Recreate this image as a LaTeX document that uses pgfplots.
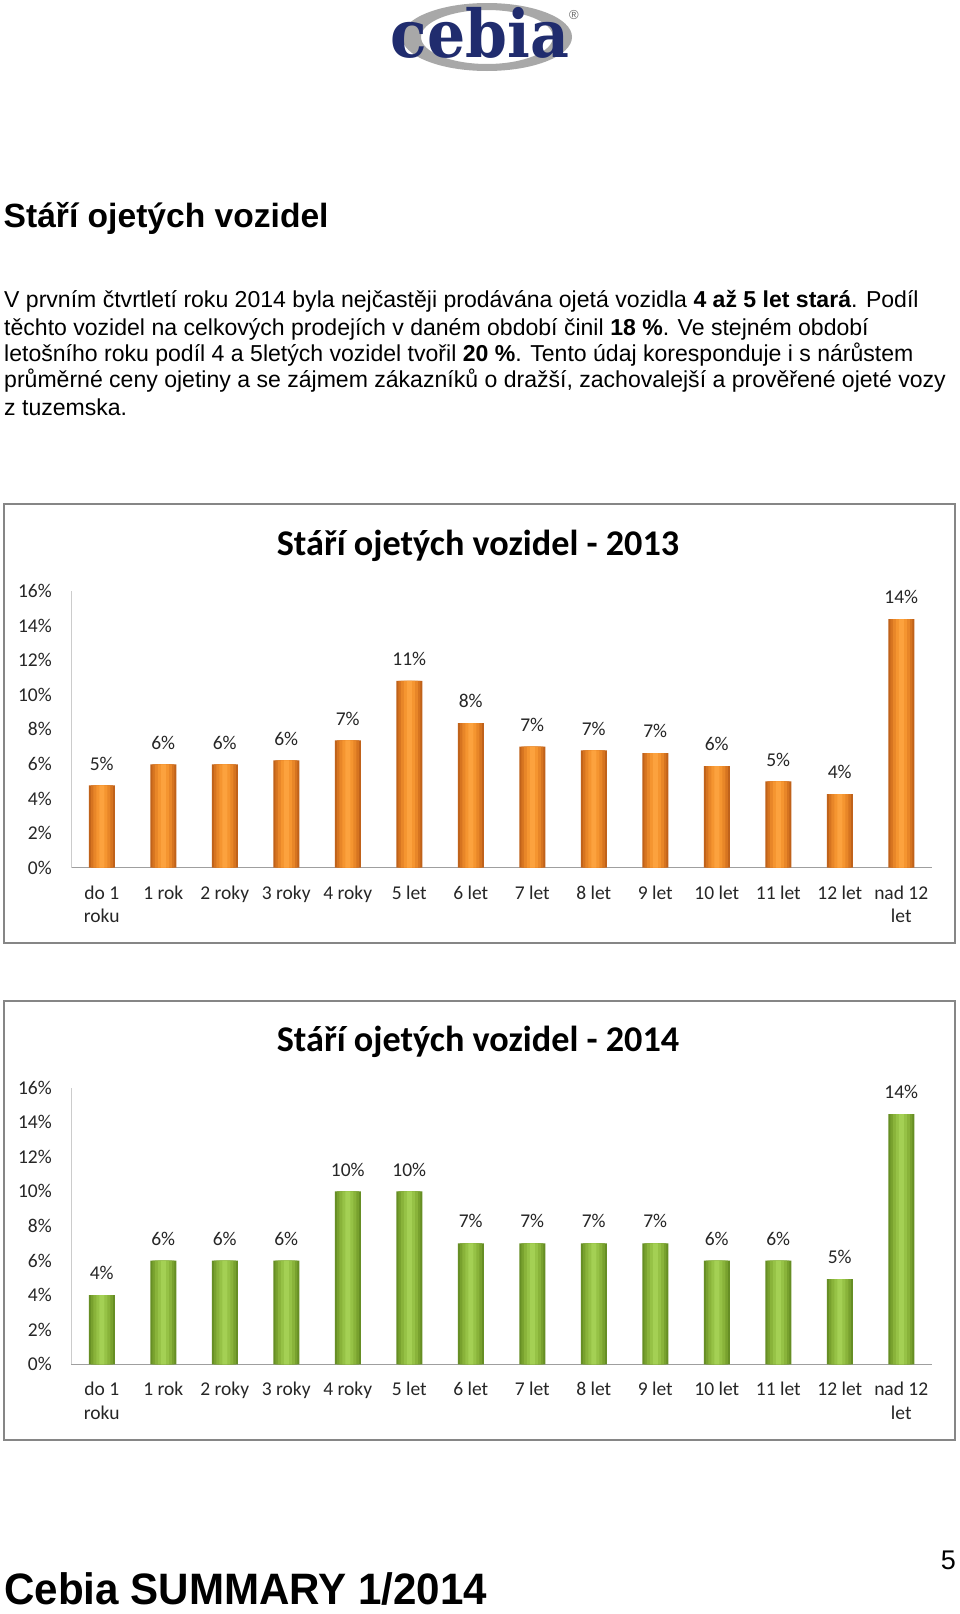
\documentclass[border=0pt]{standalone}
\usepackage{fontspec}
\usepackage{graphicx}
\usepackage{pgfplots}
\usepackage{pgfplotstable}
\pgfplotsset{compat=1.18}
\setmainfont{Liberation Sans}
\newfontfamily\carlito{Carlito}
\newfontfamily\djserif{DejaVu Serif}

\definecolor{or1}{RGB}{192,98,26}
\definecolor{or2}{RGB}{214,116,32}
\definecolor{or3}{RGB}{232,134,40}
\definecolor{or4}{RGB}{245,149,48}
\definecolor{or5}{RGB}{252,162,62}
\definecolor{gr1}{RGB}{102,142,36}
\definecolor{gr2}{RGB}{120,161,46}
\definecolor{gr3}{RGB}{137,179,58}
\definecolor{gr4}{RGB}{150,194,70}
\definecolor{gr5}{RGB}{164,208,84}
\definecolor{navy}{RGB}{32,44,110}
\definecolor{logogray}{RGB}{168,168,168}
\definecolor{framec}{RGB}{134,134,134}

\pgfplotstableread{
x y
0 4.76
1 5.97
2 5.97
3 6.2
4 7.36
5 10.8
6 8.36
7 7.0
8 6.78
9 6.63
10 5.88
11 4.99
12 4.26
13 14.37
}\dataA

\pgfplotstableread{
x y
0 4.0
1 6.0
2 6.0
3 6.0
4 10.0
5 10.0
6 7.0
7 7.0
8 7.0
9 7.0
10 6.0
11 6.0
12 4.93
13 14.47
}\dataB

\pgfplotsset{cebia/.style={
  scale only axis, width=861pt, height=276.7pt,
  xmin=-0.5, xmax=13.5, ymin=0, ymax=16,
  axis x line*=bottom, axis y line*=left,
  x axis line style={-, draw=gray!75, line width=1pt},
  y axis line style={-, draw=gray!40, line width=1pt},
  xtick={0,...,13}, ytick={0,2,...,16},
  major tick length=0pt,
  xticklabels={{do 1\\roku},{1 rok},{2 roky},{3 roky},{4 roky},{5 let},{6 let},{7 let},{8 let},{9 let},{10 let},{11 let},{12 let},{nad 12\\let}},
  yticklabel={\pgfmathprintnumber{\tick}\%},
  /pgf/number format/assume math mode=true,
  tick label style={font=\carlito\fontsize{19.5}{23.3}\selectfont, inner sep=0pt, text=black!85},
  xticklabel style={align=center, anchor=north, yshift=-17.8pt},
  yticklabel style={anchor=east, xshift=-19pt},
  clip=false,
  lay/.style={ybar, bar shift=0pt, draw=none, fill=##1},
  labs/.style={nodes near coords={\pgfmathprintnumber[fixed,precision=0]{\pgfplotspointmeta}\%},
    every node near coord/.append style={font=\carlito\fontsize{19.5}{22}\selectfont, inner sep=0pt, yshift=15pt, text=black!85}},
}}

\begin{document}
\begin{tikzpicture}
\path[use as bounding box, fill=white] (0pt,0pt) rectangle (960pt,-1614pt);

% logo
\fill[logogray, even odd rule] (487pt,-37pt) ellipse [x radius=85pt, y radius=34pt]
  (487pt,-37pt) ellipse [x radius=66pt, y radius=27pt];
\node[anchor=base, inner sep=0pt, text=navy] at (480pt,-57pt)
  {\scalebox{0.91}[1]{\djserif\bfseries\fontsize{66}{66}\selectfont cebia}};
\node[inner sep=0pt, text=black!60] at (574pt,-15pt) {\fontsize{13}{13}\selectfont ®};

% heading and text
\node[anchor=base west, inner sep=0pt] at (3.5pt,-227.7pt)
  {\bfseries\fontsize{33.6}{40}\selectfont Stáří ojetých vozidel};
\begin{scope}[every node/.style={anchor=base west, inner sep=0pt, font=\fontsize{23.05}{26.8}\selectfont}]
\node at (4pt,-307.7pt) {V prvním čtvrtletí roku 2014 byla nejčastěji prodávána ojetá vozidla \textbf{4 až 5 let stará}. Podíl};
\node at (4pt,-335.5pt) {těchto vozidel na celkových prodejích v daném období činil \textbf{18 \%}. Ve stejném období};
\node at (4pt,-361.7pt) {letošního roku podíl 4 a 5letých vozidel tvořil \textbf{20 \%}. Tento údaj koresponduje i s nárůstem};
\node at (4pt,-387.7pt) {průměrné ceny ojetiny a se zájmem zákazníků o dražší, zachovalejší a prověřené ojeté vozy};
\node at (4pt,-415pt) {z tuzemska.};
\end{scope}

% chart 1
\draw[framec, line width=1.5pt] (4pt,-504pt) rectangle (955pt,-943pt);
\node[anchor=base, inner sep=0pt] at (478pt,-555pt)
  {\carlito\bfseries\fontsize{36.2}{40}\selectfont Stáří ojetých vozidel - 2013};
\begin{axis}[cebia, at={(71pt,-867.7pt)}, anchor=south west]
\addplot[lay=or1, bar width=26pt] table[x=x, y=y] {\dataA};
\addplot[lay=or2, bar width=22pt] table[x=x, y=y] {\dataA};
\addplot[lay=or3, bar width=17pt] table[x=x, y=y] {\dataA};
\addplot[lay=or4, bar width=11pt] table[x=x, y=y] {\dataA};
\addplot[lay=or5, bar width=5pt, labs] table[x=x, y=y] {\dataA};
\end{axis}

% chart 2
\draw[framec, line width=1.5pt] (4pt,-1001pt) rectangle (955pt,-1440pt);
\node[anchor=base, inner sep=0pt] at (478pt,-1051pt)
  {\carlito\bfseries\fontsize{36.2}{40}\selectfont Stáří ojetých vozidel - 2014};
\begin{axis}[cebia, at={(71pt,-1364.3pt)}, anchor=south west]
\addplot[lay=gr1, bar width=26pt] table[x=x, y=y] {\dataB};
\addplot[lay=gr2, bar width=22pt] table[x=x, y=y] {\dataB};
\addplot[lay=gr3, bar width=17pt] table[x=x, y=y] {\dataB};
\addplot[lay=gr4, bar width=11pt] table[x=x, y=y] {\dataB};
\addplot[lay=gr5, bar width=5pt, labs] table[x=x, y=y] {\dataB};
\end{axis}

% footer
\node[anchor=base east, inner sep=0pt] at (956pt,-1569pt) {\fontsize{27}{27}\selectfont 5};
\node[anchor=base west, inner sep=0pt] at (4pt,-1604pt)
  {\scalebox{0.957}[1]{\bfseries\fontsize{44}{44}\selectfont Cebia SUMMARY 1/2014}};
\end{tikzpicture}
\end{document}
